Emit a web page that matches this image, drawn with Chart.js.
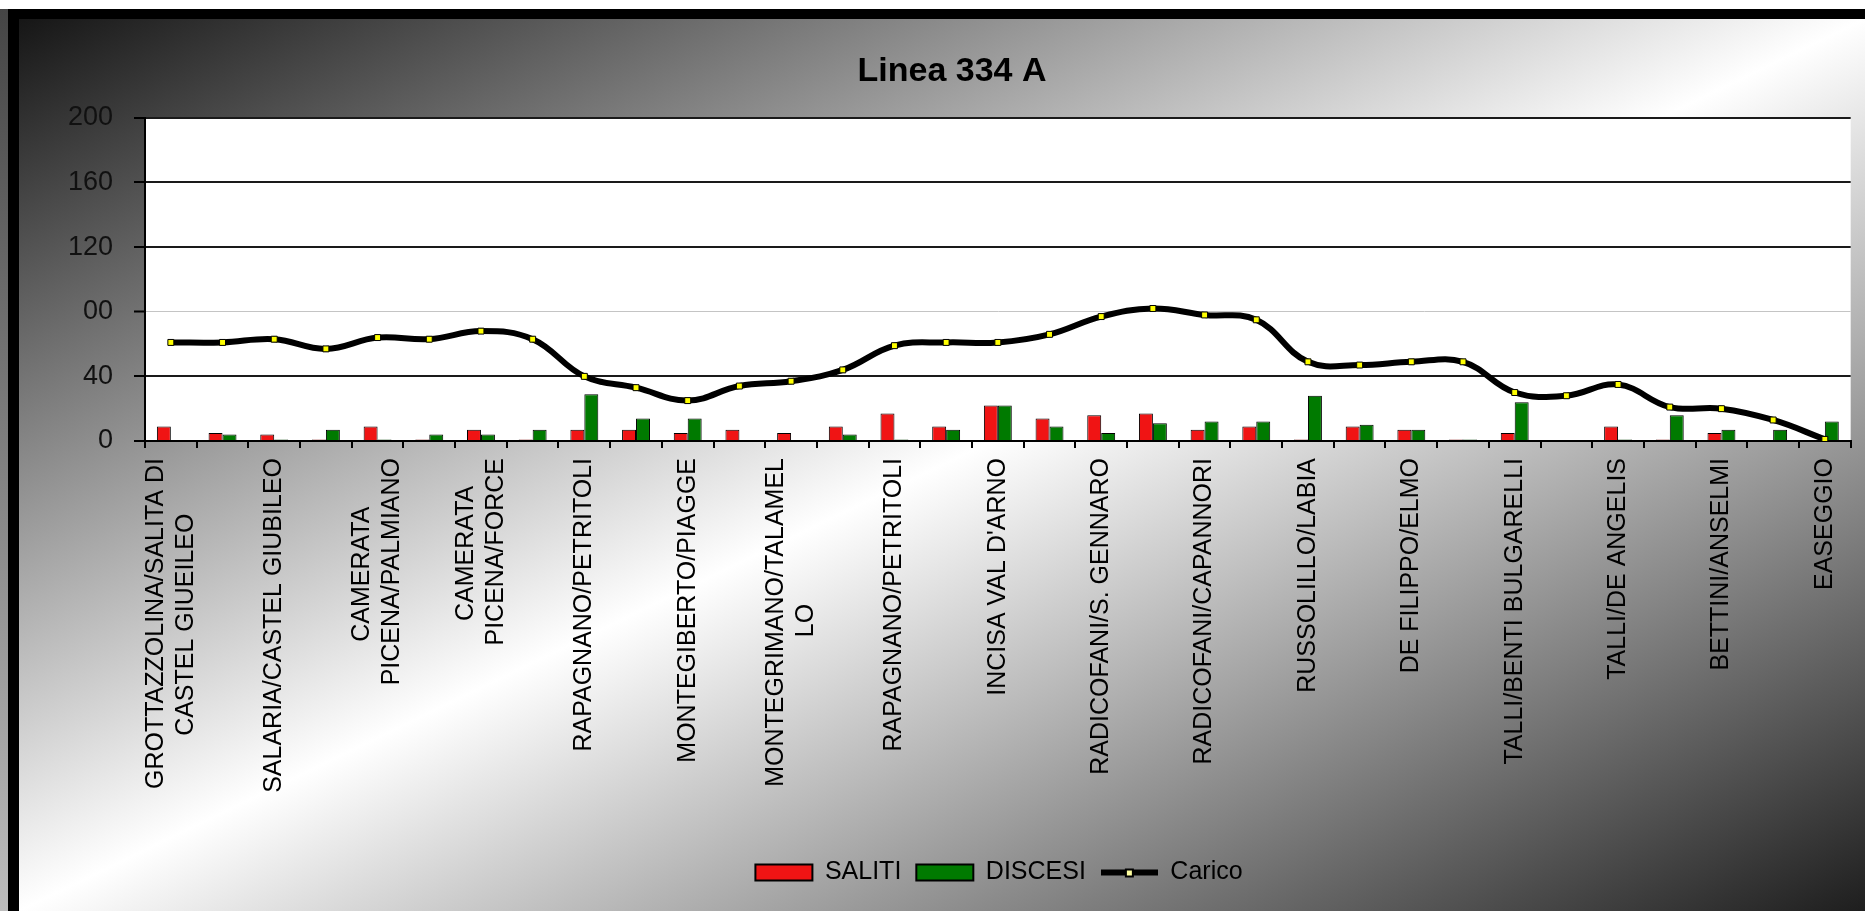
<!DOCTYPE html>
<html><head><meta charset="utf-8">
<script src="https://cdn.jsdelivr.net/npm/chart.js@4.4.0/dist/chart.umd.min.js"></script>
<style>
html,body{margin:0;padding:0;width:1865px;height:911px;overflow:hidden;background:#fff;}
#strip{position:absolute;left:0;top:9px;width:8px;bottom:0;background:linear-gradient(to bottom,#454545,#bdbdbd);}
#frame{position:absolute;left:8px;top:9px;right:0;bottom:0;border-left:11px solid #000;border-top:10px solid #000;
  background:linear-gradient(to bottom right,#161616 0%,#ffffff 50%,#1e1e1e 100%);}
#wrap{position:relative;width:1846px;height:892px;}
</style></head><body>
<div id="strip"></div>
<div id="frame"><div id="wrap"><canvas id="c"></canvas></div></div>
<script>
const categories = [
  ["GROTTAZZOLINA/SALITA DI", "CASTEL GIUEILEO"], "",
  "SALARIA/CASTEL GIUBILEO", "",
  ["CAMERATA", "PICENA/PALMIANO"], "",
  ["CAMERATA", "PICENA/FORCE"], "",
  "RAPAGNANO/PETRITOLI", "",
  "MONTEGIBERTO/PIAGGE", "",
  ["MONTEGRIMANO/TALAMEL", "LO"], "",
  "RAPAGNANO/PETRITOLI", "",
  "INCISA VAL D'ARNO", "",
  "RADICOFANI/S. GENNARO", "",
  "RADICOFANI/CAPANNORI", "",
  "RUSSOLILLO/LABIA", "",
  "DE FILIPPO/ELMO", "",
  "TALLI/BENTI BULGARELLI", "",
  "TALLI/DE ANGELIS", "",
  "BETTINI/ANSELMI", "",
  "EASEGGIO"
];
const saliti  = [9,5,4,1,9,1,7,1,7,7,5,7,5,9,17,9,22,14,16,17,7,9,1,9,7,1,5,0,9,1,5,0,0];
const discesi = [0,4,1,7,1,4,4,7,29,14,14,0,0,4,1,7,22,9,5,11,12,12,28,10,7,1,24,0,1,16,7,7,12];
const carico  = [61,61,63,57,64,63,68,63,40,33,25,34,37,44,59,61,61,66,77,82,78,75,49,47,49,49,30,28,35,21,20,13,1];
const yTickValues = [0,40,80,120,160,200];
const yTickLabels = ['0','40','00','120','160','200'];
const seriesNames = ['SALITI','DISCESI','Carico'];
const titleText = 'Linea 334 A';

const FAMILY = '"Liberation Sans", Arial, sans-serif';
const XFONT = 25;

const mctx = document.createElement('canvas').getContext('2d');
mctx.font = XFONT + 'px ' + FAMILY;
function centerLines(lbl){
  if(!Array.isArray(lbl)) return lbl;
  const ws = lbl.map(s => mctx.measureText(s).width);
  const max = Math.max(...ws);
  const sp = mctx.measureText(' ').width;
  return lbl.map((s,i) => s + ' '.repeat(Math.round((max - ws[i]) / 2 / sp)));
}

const lineIcon = document.createElement('canvas');
lineIcon.width = 57; lineIcon.height = 12;
(function(){
  const g = lineIcon.getContext('2d');
  g.fillStyle = '#000'; g.fillRect(0,3,57,6);
  g.fillRect(24,2,9,9);
  g.fillStyle = '#ffffa0'; g.fillRect(26,4,5,5);
})();

new Chart(document.getElementById('c'), {
  type: 'bar',
  data: {
    labels: categories,
    datasets: [
      {type:'bar', label:seriesNames[0], data:saliti, backgroundColor:'#f01414', borderColor:'#000', borderWidth:1,
        categoryPercentage:0.54, barPercentage:1, order:2},
      {type:'bar', label:seriesNames[1], data:discesi, backgroundColor:'#007a00', borderColor:'#000', borderWidth:1,
        categoryPercentage:0.54, barPercentage:1, order:2},
      {type:'line', label:seriesNames[2], data:carico, borderColor:'#000', backgroundColor:'#000', borderWidth:6,
        tension:0.4, pointStyle:'rect', pointRadius:4.2, pointBackgroundColor:'#ffff00', pointBorderColor:'#000',
        pointBorderWidth:1, order:1}
    ]
  },
  options: {
    responsive:true, maintainAspectRatio:false, animation:false,
    layout:{padding:{left:31, right:11, top:0, bottom:16}},
    plugins:{
      title:{display:true, text:titleText, color:'#000', font:{family:FAMILY, size:34, weight:'bold'}, padding:{top:32, bottom:26}},
      legend:{position:'bottom', labels:{
        color:'#000', font:{family:FAMILY, size:25}, padding:15, usePointStyle:true, pointStyleWidth:57, boxHeight:16,
        sort:(a,b) => a.datasetIndex - b.datasetIndex,
        generateLabels(chart){
          const items = Chart.defaults.plugins.legend.labels.generateLabels(chart);
          items.forEach(it => {
            if (it.datasetIndex === 2) { it.pointStyle = lineIcon; it.lineWidth = 0; }
            else { it.pointStyle = 'rect'; it.lineWidth = 2; it.strokeStyle = '#000'; }
          });
          return items;
        }
      }},
      tooltip:{enabled:false}
    },
    scales:{
      x:{
        grid:{display:true, drawOnChartArea:false, drawTicks:true, tickLength:7, color:'#000', lineWidth:2},
        border:{display:true, color:'#000', width:2},
        ticks:{autoSkip:false, minRotation:90, maxRotation:90, padding:10, color:'#000',
          font:{family:FAMILY, size:XFONT},
          callback(v, i){ return centerLines(categories[i]); }},
        afterFit(s){ s.height = 404; }
      },
      y:{
        min:0, max:200,
        ticks:{stepSize:40, padding:21, color:'#111', font:{family:FAMILY, size:27},
          callback(v){ const k = yTickValues.indexOf(v); return k >= 0 ? yTickLabels[k] : ''; }},
        grid:{color:c => (c.tick && c.tick.value === 80) ? '#c4c4c4' : '#1a1a1a',
              lineWidth:c => (c.tick && c.tick.value === 80) ? 1 : 2,
              tickColor:'#000', tickLength:11, tickWidth:2},
        border:{display:true, color:'#000', width:2},
        afterFit(s){ s.width = 95; }
      }
    }
  },
  plugins:[
    {id:'plotBg', beforeDraw(c){ const a = c.chartArea; const x = c.ctx; x.save(); x.fillStyle = '#fff';
      x.fillRect(a.left, a.top, a.right - a.left, a.bottom - a.top); x.restore(); }},
    {id:'legendShift', afterLayout(c){ if (c.legend) { c.legend.left += 47; c.legend.right += 47; } }},
    {id:'centerMultiLine', beforeDraw(c){
      const s = c.scales.x;
      const items = s.getLabelItems();
      items.forEach(it => {
        if (Array.isArray(it.label) && it.label.length > 1 && !it._centered) {
          const lh = it.font.lineHeight;
          it.options.translation[0] -= (it.label.length - 1) * lh / 2;
          it._centered = true;
        }
      });
    }}
  ]
});
</script>
</body></html>
